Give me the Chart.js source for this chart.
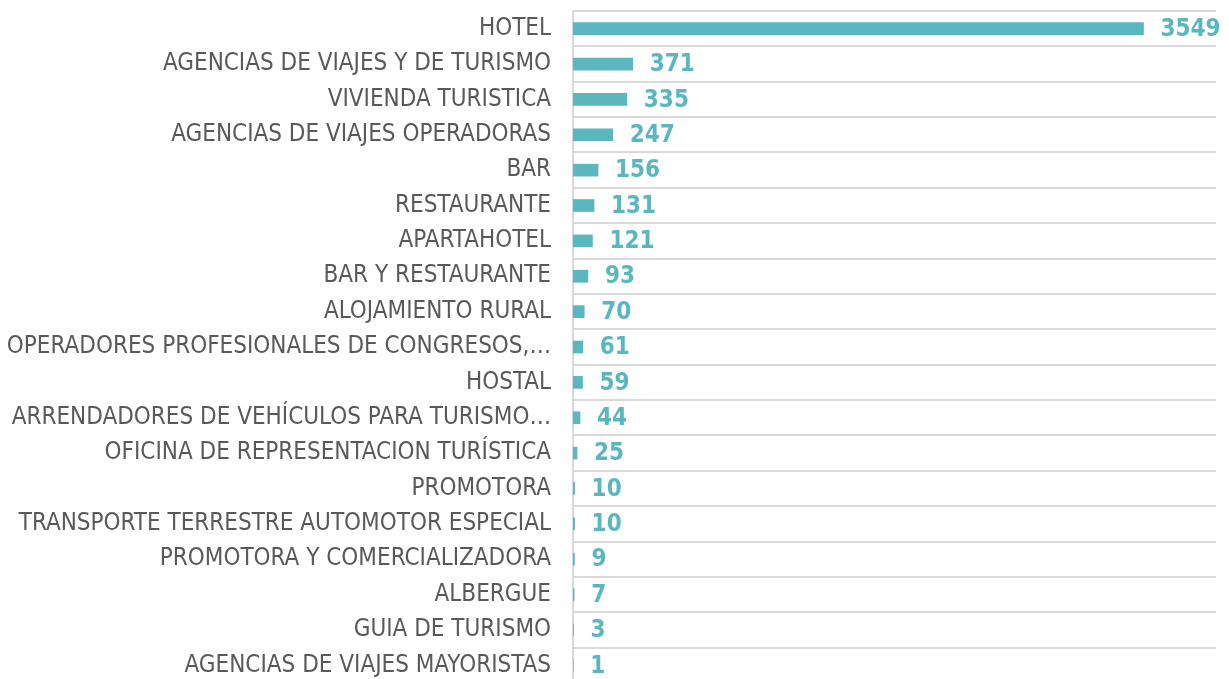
<!DOCTYPE html>
<html>
<head>
<meta charset="utf-8">
<script src="https://cdn.jsdelivr.net/npm/chart.js@4/dist/chart.umd.min.js"></script>
<style>
  html, body { margin: 0; padding: 0; background: #fff; overflow: hidden; }
  #wrap { width: 1229px; height: 683px; }
</style>
</head>
<body>
<div id="wrap"><canvas id="chart" width="1229" height="683"></canvas></div>
<script>
// categories and counts
const categories = [
    'HOTEL',
    'AGENCIAS DE VIAJES Y DE TURISMO',
    'VIVIENDA TURISTICA',
    'AGENCIAS DE VIAJES OPERADORAS',
    'BAR',
    'RESTAURANTE',
    'APARTAHOTEL',
    'BAR Y RESTAURANTE',
    'ALOJAMIENTO RURAL',
    'OPERADORES PROFESIONALES DE CONGRESOS,…',
    'HOSTAL',
    'ARRENDADORES DE VEHÍCULOS PARA TURISMO…',
    'OFICINA DE REPRESENTACION TURÍSTICA',
    'PROMOTORA',
    'TRANSPORTE TERRESTRE AUTOMOTOR ESPECIAL',
    'PROMOTORA Y COMERCIALIZADORA',
    'ALBERGUE',
    'GUIA DE TURISMO',
    'AGENCIAS DE VIAJES MAYORISTAS'
];
const counts = [3549, 371, 335, 247, 156, 131, 121, 93, 70, 61, 59, 44, 25, 10, 10, 9, 7, 3, 1];

const barColor = '#5ab7c0';
const gridColor = '#d9d9d9';

// value labels drawn right of each bar
const valueLabels = {
    id: 'valueLabels',
    afterDatasetsDraw(chart) {
        const ctx = chart.ctx;
        const meta = chart.getDatasetMeta(0);
        ctx.save();
        ctx.font = 'bold 24px "DejaVu Sans Condensed", "DejaVu Sans", sans-serif';
        ctx.fillStyle = barColor;
        ctx.textAlign = 'left';
        ctx.textBaseline = 'middle';
        meta.data.forEach((bar, i) => {
            ctx.fillText(String(counts[i]), bar.x + 17, bar.y + 1);
        });
        ctx.restore();
    }
};

new Chart(document.getElementById('chart'), {
    type: 'bar',
    data: {
        labels: categories,
        datasets: [{
            data: counts,
            backgroundColor: barColor,
            barThickness: 12
        }]
    },
    options: {
        indexAxis: 'y',
        responsive: false,
        animation: false,
        layout: { padding: { top: 11, right: 13, left: 0, bottom: 0 } },
        plugins: {
            legend: { display: false },
            tooltip: { enabled: false }
        },
        scales: {
            x: {
                display: false,
                min: 0,
                max: 4000
            },
            y: {
                afterFit: (scale) => {
                    scale.width = 573;
                    scale.paddingTop = 0;
                    scale.paddingBottom = 0;
                },
                grid: {
                    color: gridColor,
                    lineWidth: 2,
                    drawTicks: false
                },
                border: { color: gridColor, width: 2 },
                ticks: {
                    padding: 22,
                    color: '#595959',
                    font: { family: '"DejaVu Sans Condensed", "DejaVu Sans", sans-serif', size: 24 }
                }
            }
        }
    },
    plugins: [valueLabels]
});
</script>
</body>
</html>
